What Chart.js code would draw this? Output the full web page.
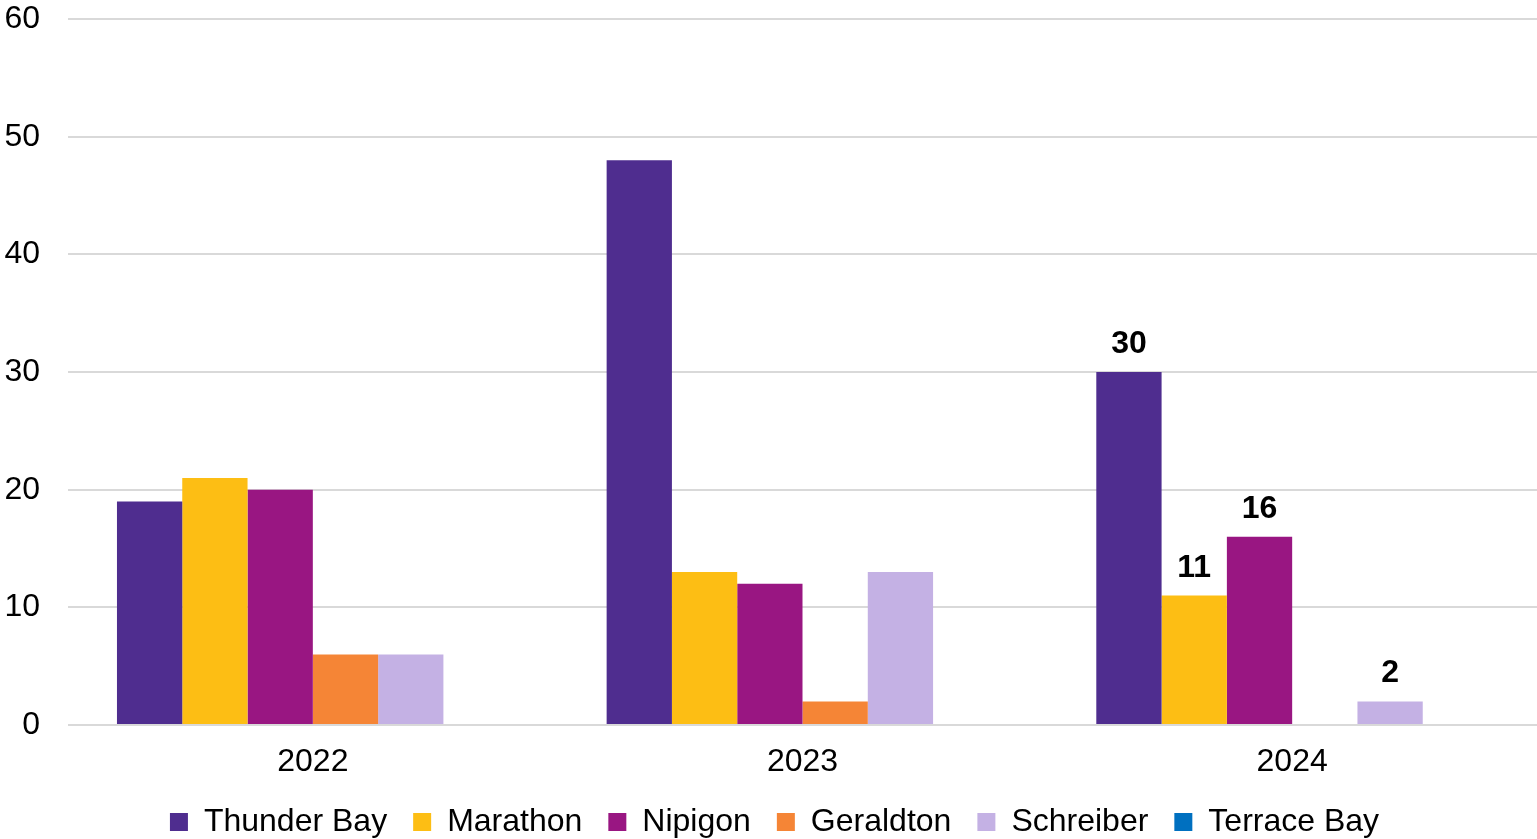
<!DOCTYPE html>
<html>
<head>
<meta charset="utf-8">
<script src="https://cdn.jsdelivr.net/npm/chart.js@4"></script>
<style>
html,body{margin:0;padding:0;background:#fff;}
#wrap{width:1537px;height:839px;position:relative;}
</style>
</head>
<body>
<div id="wrap"><canvas id="c"></canvas></div>
<script>
const categories = ["2022", "2023", "2024"];
const seriesNames = ["Thunder Bay", "Marathon", "Nipigon", "Geraldton", "Schreiber", "Terrace Bay"];
const thunderBay = [19, 48, 30];
const marathon = [21, 13, 11];
const nipigon = [20, 12, 16];
const geraldton = [6, 2, 0];
const schreiber = [6, 13, 2];
const terraceBay = [0, 0, 0];
const yTicks = [0, 10, 20, 30, 40, 50, 60];
const labelledCategory = "2024";

const colors = ["#4F2D8F", "#FDBE14", "#991682", "#F58536", "#C4B1E4", "#0070C0"];
const values = [thunderBay, marathon, nipigon, geraldton, schreiber, terraceBay];

const FONT = "'Liberation Sans', Arial, sans-serif";

const labelPlugin = {
  id: 'barLabels',
  afterLayout(chart) {
    if (chart.legend) { chart.legend.left += 6; chart.legend.right += 6; }
  },
  afterDatasetsDraw(chart) {
    const ctx = chart.ctx;
    const idx = categories.indexOf(labelledCategory);
    ctx.save();
    ctx.font = "bold 32px " + FONT;
    ctx.fillStyle = "#000";
    ctx.textAlign = "center";
    ctx.textBaseline = "alphabetic";
    chart.data.datasets.forEach((ds, i) => {
      const v = ds.data[idx];
      if (!v) return;
      const el = chart.getDatasetMeta(i).data[idx];
      ctx.fillText(String(v), el.x, el.y - 19);
    });
    ctx.restore();
  }
};

new Chart(document.getElementById('c'), {
  type: 'bar',
  data: {
    labels: categories,
    datasets: seriesNames.map((n, i) => ({
      label: n,
      data: values[i],
      backgroundColor: colors[i],
      borderWidth: 0,
      categoryPercentage: 0.8,
      barPercentage: 1.0
    }))
  },
  options: {
    responsive: true,
    maintainAspectRatio: false,
    animation: false,
    devicePixelRatio: 1,
    layout: { padding: { left: 0, right: 0, top: -1, bottom: -9 } },
    plugins: {
      legend: {
        position: 'bottom',
        labels: {
          font: { family: FONT, size: 32 },
          color: '#000',
          boxWidth: 18,
          boxHeight: 18,
          padding: 26
        }
      },
      tooltip: { enabled: false }
    },
    scales: {
      x: {
        grid: { display: false, drawTicks: true, tickLength: 18 },
        border: { display: false },
        ticks: { font: { family: FONT, size: 32 }, color: '#000', padding: 0 },
        afterFit(axis) { axis.height = 55; }
      },
      y: {
        min: 0, max: 60,
        afterBuildTicks(axis) { axis.ticks = yTicks.map(v => ({ value: v })); },
        grid: { color: '#D9D9D9', lineWidth: 2, drawTicks: true, tickLength: 28, tickColor: 'rgba(0,0,0,0)' },
        border: { display: false },
        ticks: { font: { family: FONT, size: 32 }, color: '#000', padding: 0 },
        afterFit(axis) { axis.width = 68; }
      }
    }
  },
  plugins: [labelPlugin]
});
</script>
</body>
</html>
